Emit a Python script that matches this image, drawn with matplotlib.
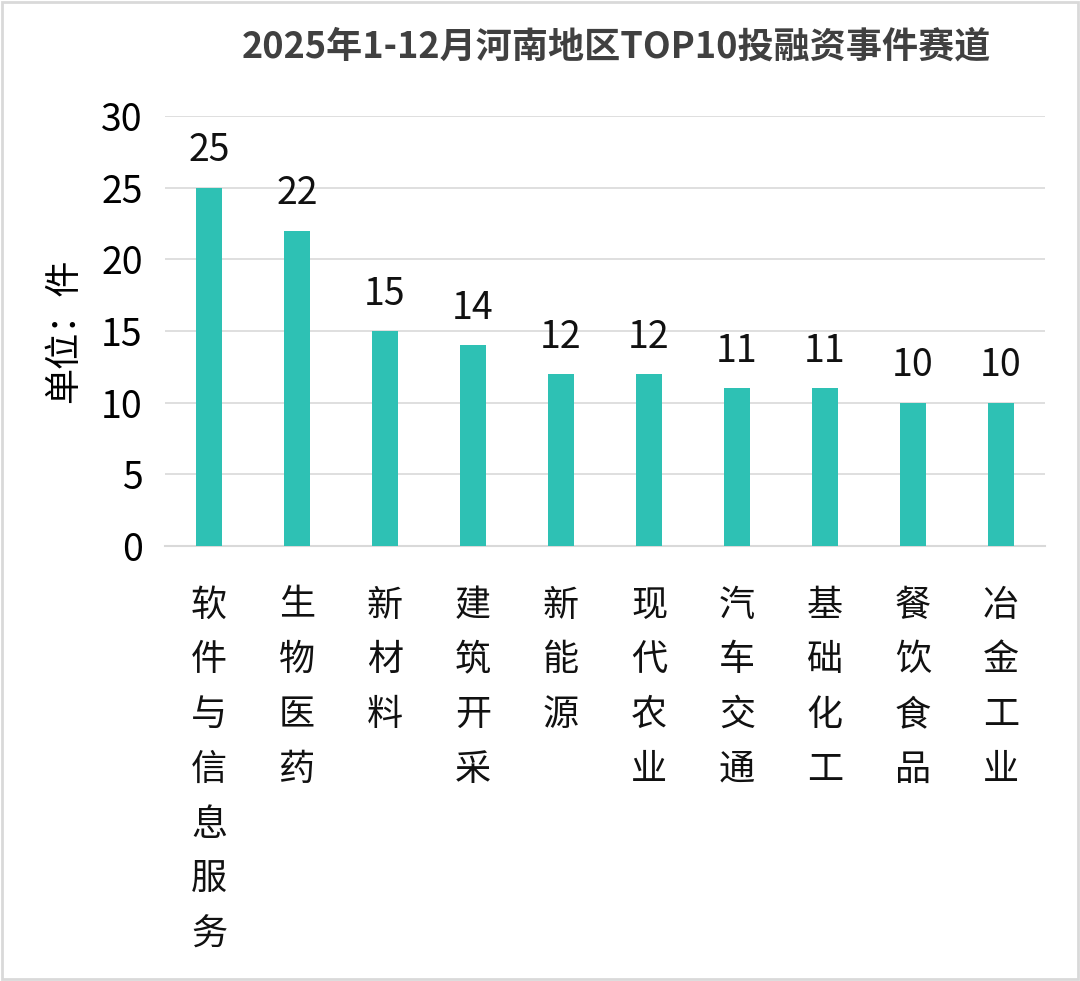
import matplotlib
matplotlib.use("Agg")
import matplotlib.pyplot as plt
from matplotlib.patches import Rectangle

plt.rcParams['font.family'] = ['Noto Sans CJK SC', 'DejaVu Sans']

categories = ["软件与信息服务", "生物医药", "新材料", "建筑开采", "新能源",
              "现代农业", "汽车交通", "基础化工", "餐饮食品", "冶金工业"]
counts = [25, 22, 15, 14, 12, 12, 11, 11, 10, 10]
y_ticks = [0, 5, 10, 15, 20, 25, 30]

bar_color = "#2ec1b4"
grid_color = "#d9d9d9"

fig = plt.figure(figsize=(10.8, 9.81), dpi=100)
ax = fig.add_axes([0.1528, 0.4434, 0.8148, 0.4384])

x = list(range(len(categories)))
ax.bar(x, counts, width=0.3, color=bar_color, zorder=3)

for xi, v in zip(x, counts):
    ax.text(xi, v + 1.2, str(v), ha="center", va="bottom", fontsize=27, color="#111111")

ax.set_xlim(-0.5, len(categories) - 0.5)
ax.set_ylim(0, 30)
ax.set_yticks(y_ticks)
ax.set_yticklabels([str(t) for t in y_ticks], fontsize=27)
ax.set_xticks([])
ax.tick_params(axis="y", length=0, pad=16)
ax.yaxis.grid(True, color=grid_color, linewidth=1.2, zorder=0)
for side in ["top", "right", "left"]:
    ax.spines[side].set_visible(False)
ax.spines["bottom"].set_color(grid_color)
ax.spines["bottom"].set_linewidth(1.5)

# vertical category labels
for xi, name in zip(x, categories):
    ax.text(xi, -2.9, "\n".join(name), ha="center", va="top", fontsize=26,
            linespacing=1.67, color="#111111", transform=ax.transData, clip_on=False)

ax.set_ylabel("单位：件", fontsize=26, labelpad=14)

fig.text(0.571, 0.952, "2025年1-12月河南地区TOP10投融资事件赛道", ha="center", va="center",
         fontsize=26, fontweight="bold", color="#404040")

# light frame around the picture
fig.patches.append(Rectangle((0.002, 0.002), 0.996, 0.996, transform=fig.transFigure,
                             fill=False, edgecolor="#d9d9d9", linewidth=2))

fig.savefig("out.png", dpi=100)
